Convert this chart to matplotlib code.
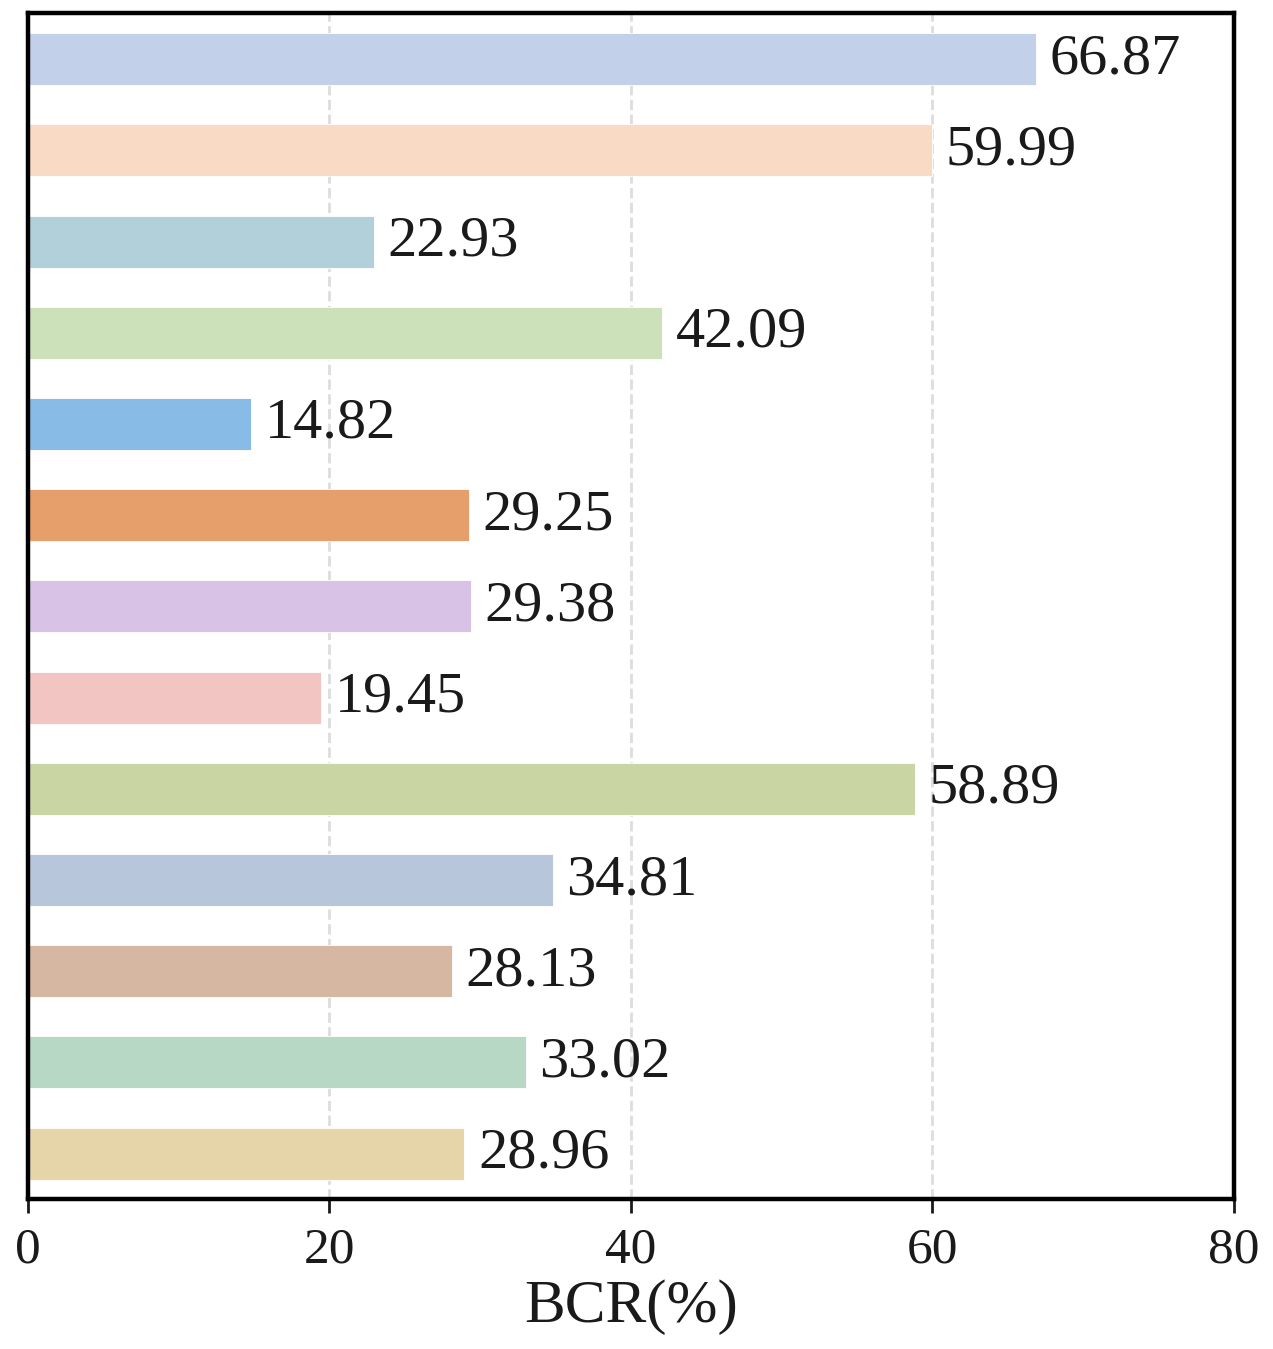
import numpy as np
import matplotlib.pyplot as plt

plt.rcParams['font.family'] = ['Liberation Serif', 'DejaVu Serif']

# Werte von oben nach unten
werte = [66.87, 59.99, 22.93, 42.09, 14.82, 29.25, 29.38, 19.45, 58.89, 34.81, 28.13, 33.02, 28.96]
farben = ["#C3D0EA", "#F8DAC5", "#B1D0DA", "#CCE0BA", "#88BCE6", "#E69F6B", "#D8C2E6",
          "#F2C5C3", "#C9D5A2", "#B7C6DA", "#D6B7A2", "#B6D8C5", "#E6D5A8"]
xticks = [0, 20, 40, 60, 80]

fig, ax = plt.subplots(figsize=(12.73, 13.49), dpi=100)
fig.subplots_adjust(left=0.022, right=0.969, top=0.99, bottom=0.111)

pos = np.arange(len(werte))
ax.barh(pos, werte, height=0.57, color=farben, edgecolor="white", linewidth=0.6, zorder=2)

for p, w in zip(pos, werte):
    ax.text(w + 0.9, p, f"{w:.2f}", va="center", ha="left", fontsize=42, color="#1a1a1a")

ax.set_xlim(0, 80)
ax.set_ylim(len(werte) - 0.5, -0.5)
ax.set_xticks(xticks)
ax.set_yticks([])
ax.tick_params(axis="x", labelsize=37, length=10, width=2, colors="#1a1a1a", pad=10)
ax.set_xlabel("BCR(%)", fontsize=44, color="#1a1a1a", labelpad=4)

ax.grid(axis="x", linestyle="--", color="#dddddd", linewidth=2, zorder=0)
ax.set_axisbelow(True)
for s in ax.spines.values():
    s.set_linewidth(3.2)
    s.set_color("black")

plt.savefig("out.png", dpi=100)
